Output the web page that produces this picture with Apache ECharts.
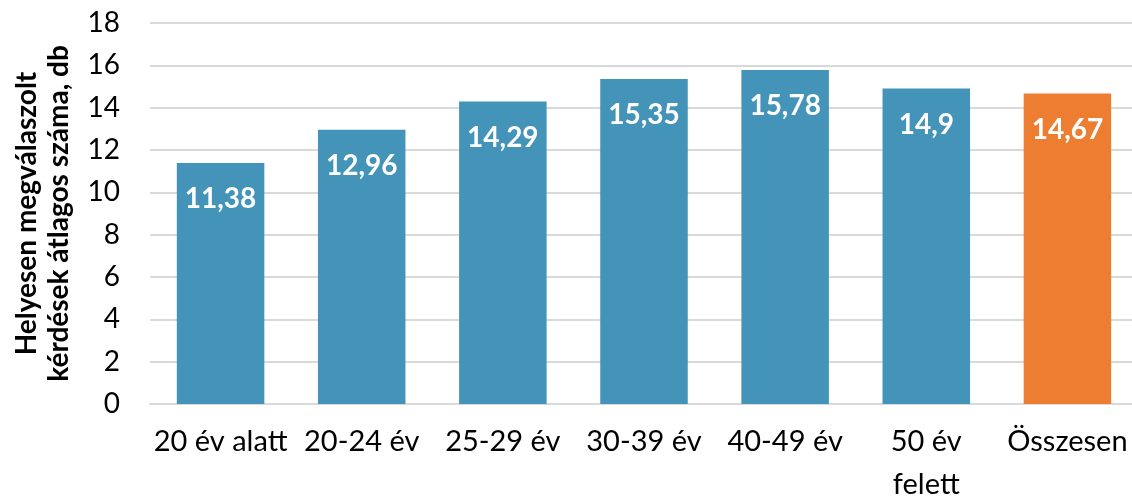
<!DOCTYPE html>
<html lang="hu">
<head>
    <meta charset="UTF-8">
    <title>Helyesen megválaszolt kérdések</title>
    <style>
        * { margin: 0; padding: 0; }
        html, body, #chart { width: 1132px; height: 496px; overflow: hidden; background: #fff; }
    </style>
</head>
<body>
    <div id="chart"></div>
    <script src="https://cdn.jsdelivr.net/npm/echarts@6/dist/echarts.min.js"></script>
    <script>
        let categories = ['20 év alatt', '20-24 év', '25-29 év', '30-39 év', '40-49 év', '50 év\nfelett', 'Összesen'];
        let values = [11.38, 12.96, 14.29, 15.35, 15.78, 14.9, 14.67];
        let barColors = ['#4394b8', '#4394b8', '#4394b8', '#4394b8', '#4394b8', '#4394b8', '#ed7d31'];
        let yTicks = { min: 0, max: 18, interval: 2 };

        let font = 'Lato, "Open Sans", sans-serif';

        let myChart = echarts.init(document.getElementById('chart'));
        let option = {
            animation: false,
            grid: { left: 150, right: -6, top: 23, bottom: 92, outerBoundsMode: 'none' },
            xAxis: {
                type: 'category',
                data: categories,
                axisTick: { show: false },
                axisLine: { lineStyle: { color: '#d9d9d9', width: 2 } },
                axisLabel: {
                    interval: 0,
                    color: '#000',
                    fontSize: 29,
                    fontFamily: font,
                    margin: 16,
                    lineHeight: 43
                }
            },
            yAxis: {
                type: 'value',
                min: yTicks.min,
                max: yTicks.max,
                interval: yTicks.interval,
                name: 'Helyesen megválaszolt\nkérdések átlagos száma, db',
                nameLocation: 'middle',
                nameRotate: 90,
                nameGap: 75,
                nameTextStyle: {
                    color: '#000',
                    fontSize: 28,
                    fontWeight: 'bold',
                    fontFamily: font,
                    lineHeight: 32
                },
                axisLabel: {
                    color: '#000',
                    fontSize: 28,
                    fontFamily: font,
                    margin: 30
                },
                splitLine: { lineStyle: { color: '#d9d9d9', width: 2 } }
            },
            series: [{
                type: 'bar',
                barWidth: '62%',
                data: values.map((v, i) => ({ value: v, itemStyle: { color: barColors[i] } })),
                label: {
                    show: true,
                    position: 'insideTop',
                    distance: 22,
                    color: '#fff',
                    fontSize: 28,
                    fontWeight: 'bold',
                    fontFamily: font,
                    formatter: p => String(p.value).replace('.', ',')
                }
            }]
        };
        myChart.setOption(option);
    </script>
</body>
</html>
